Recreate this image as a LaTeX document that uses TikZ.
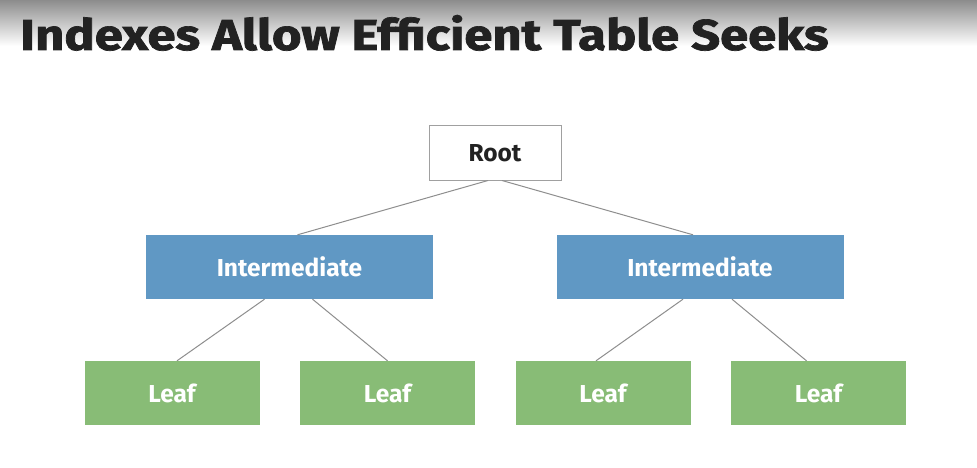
\documentclass[tikz,border=0pt]{standalone}
\usepackage{fontspec}
\setmainfont{Fira Sans}
\setsansfont{Fira Sans}
\newfontfamily\titlefont[BoldFeatures={FakeBold=1.6}]{Fira Sans}
\usetikzlibrary{calc}
\definecolor{titlec}{HTML}{222222}
\definecolor{interc}{HTML}{6098C4}
\definecolor{leafc}{HTML}{88BC76}
\definecolor{rootb}{HTML}{A0A0A0}
\definecolor{linec}{HTML}{8E8E8E}
\tikzset{
  box/.style={draw=none, inner sep=0pt, font=\fontsize{24.5}{28}\selectfont\bfseries},
  rootbox/.style={box, draw=rootb, line width=1pt, fill=white, text=titlec, minimum width=132pt, minimum height=54pt},
  interbox/.style={box, fill=interc, text=white, minimum width=287pt, minimum height=64pt},
  leafbox/.style={box, fill=leafc, text=white, minimum width=175pt, minimum height=64pt},
  conn/.style={draw=linec, line width=1pt}
}
\begin{document}
\begin{tikzpicture}[x=1pt,y=-1pt]
\useasboundingbox (0,0) rectangle (977,468);
\fill[white] (0,0) rectangle (977,468);
\shade[top color=black!45, bottom color=white] (0,0) rectangle (977,46);
\node[anchor=base west, inner sep=0pt, text=titlec] (title) at (20,50)
  {\resizebox{808pt}{35pt}{\titlefont\bfseries Indexes Allow Efficient Table Seeks}};
\node[rootbox] (root) at (495,153) {Root};
\node[interbox] (i1) at (289.5,267) {Intermediate};
\node[interbox] (i2) at (700,267) {Intermediate};
\node[leafbox] (l1) at (172,393) {Leaf};
\node[leafbox] (l2) at (387.5,393) {Leaf};
\node[leafbox] (l3) at (603,393) {Leaf};
\node[leafbox] (l4) at (818.5,393) {Leaf};
\draw[conn] ([xshift=-7pt]root.south) -- ([xshift=8pt]i1.north);
\draw[conn] ([xshift=7pt]root.south) -- ([xshift=-7pt]i2.north);
\draw[conn] ([xshift=-25pt]i1.south) -- ([xshift=5pt]l1.north);
\draw[conn] ([xshift=23pt]i1.south) -- ([xshift=0pt]l2.north);
\draw[conn] ([xshift=-17pt]i2.south) -- ([xshift=-7pt]l3.north);
\draw[conn] ([xshift=32pt]i2.south) -- ([xshift=-12pt]l4.north);
\end{tikzpicture}
\end{document}
